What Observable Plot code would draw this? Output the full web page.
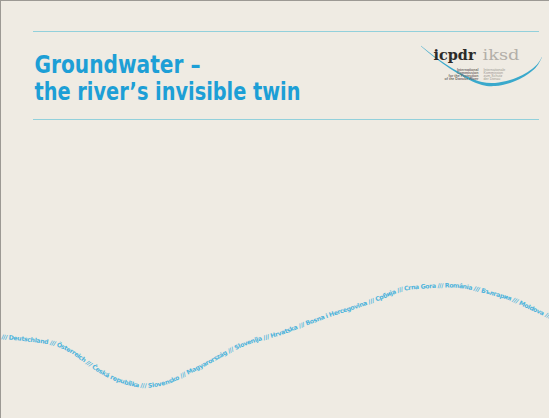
<!DOCTYPE html>
<html>
<head>
<meta charset="utf-8">
<script src="https://cdn.jsdelivr.net/npm/d3@7"></script>
<script src="https://cdn.jsdelivr.net/npm/@observablehq/plot@0.6"></script>
<style>
  html, body { margin: 0; padding: 0; background: #efebe3; }
  #chart svg { display: block; }
</style>
</head>
<body>
<div id="chart"></div>
<script>
// ---- content ----
const titleLines = ["Groundwater –", "the river’s invisible twin"];
const logoMain = "icpdr";
const logoAlt = "iksd";
const logoLeft = ["International", "Commission", "for the Protection", "of the Danube River"];
const logoRight = ["Internationale", "Kommission", "zum Schutz", "der Donau"];
const countries = ["Deutschland", "Österreich", "Česká republika", "Slovensko", "Magyarország",
  "Slovenija", "Hrvatska", "Bosna i Hercegovina", "Србија", "Crna Gora", "România",
  "България", "Moldova"];

// river wave (centre line of the lettering)
const waveX = [0, 20, 45, 60, 75, 90, 110, 130, 145, 165, 185, 205, 225, 250, 275, 300, 330, 355, 380, 400, 420, 440, 455, 470, 490, 510, 530, 552];
const waveY = [336, 338, 341, 345, 353, 364, 376, 383, 385, 382, 373, 363, 352, 341, 334, 325, 314, 306, 297, 289, 286, 285, 285, 287, 292, 298, 307, 317];

// logo swoosh (centre line + thickness)
const swooshX = [421, 432, 443, 457, 470, 482, 495, 510, 522, 532, 538, 542];
const swooshY = [46, 55, 63, 72, 79, 83.5, 84.5, 81.5, 76.5, 70, 64, 57];
const swooshW = [0.5, 1.0, 1.5, 2.0, 2.5, 2.9, 3.1, 2.9, 2.5, 2, 1.4, 0.6];

// rules
const ruleY = [31, 119];

// ---- layout ----
const W = 549, H = 418;
const titleX = 34, titleBase = 72.7, titleGap = 26.3;
const titleWidths = [166, 266];
const ruleX1 = 33, ruleX2 = 539;

const wave = waveX.map((x, i) => ({x, y: waveY[i]}));
const swoosh = swooshX.map((x, i) => ({x, y1: swooshY[i] - swooshW[i] / 2, y2: swooshY[i] + swooshW[i] / 2}));

const blue = "#1d9fd6";
const svg = Plot.plot({
  width: W, height: H,
  margin: 0,
  style: {background: "#efebe3", overflow: "hidden"},
  x: {domain: [0, W], range: [0, W], axis: null},
  y: {domain: [0, H], range: [0, H], axis: null},
  marks: [
    Plot.ruleY(ruleY, {x1: ruleX1, x2: ruleX2, stroke: "#92d0db", strokeWidth: 1}),
    Plot.text(titleLines, {
      x: titleX, y: (d, i) => titleBase + i * titleGap, text: d => d,
      textAnchor: "start", lineAnchor: "bottom", fill: blue,
      fontSize: 25.5, fontWeight: "bold",
      fontFamily: "'DejaVu Sans', Roboto, sans-serif"
    }),
    Plot.areaY(swoosh, {x: "x", y1: "y1", y2: "y2", curve: "natural", fill: "#3aa9cc"}),
    Plot.text([logoMain], {x: 433, y: 59, text: d => d, textAnchor: "start", lineAnchor: "bottom",
      fontSize: 15, fontWeight: "bold", fill: "#2b2a28", fontFamily: "'DejaVu Serif', 'Liberation Serif', serif"}),
    Plot.text([logoAlt], {x: 482, y: 59, text: d => d, textAnchor: "start", lineAnchor: "bottom",
      fontSize: 15, fill: "#b3afa9", fontFamily: "'DejaVu Serif', 'Liberation Serif', serif"}),
    Plot.text(logoLeft, {x: 478, y: (d, i) => 70 + i * 3.2, text: d => d, textAnchor: "end", lineAnchor: "bottom",
      fontSize: 3.6, fontWeight: "bold", fill: "#6f6c68", fontFamily: "'Liberation Sans', sans-serif"}),
    Plot.text(logoRight, {x: 483, y: (d, i) => 70 + i * 3.2, text: d => d, textAnchor: "start", lineAnchor: "bottom",
      fontSize: 3.6, fill: "#9b9892", fontFamily: "'Liberation Sans', sans-serif"}),
    Plot.line(wave, {x: "x", y: "y", curve: "natural", stroke: "#efebe3", strokeOpacity: 0}),
    Plot.frame({stroke: "#9c9994", strokeWidth: 1})
  ]
});
document.getElementById("chart").appendChild(svg);

// fit title lines and logo words to the reference widths (condensed face)
svg.querySelectorAll("text").forEach(t => {
  const s = t.textContent;
  const k = titleLines.indexOf(s);
  if (k >= 0) {
    t.style.fontStretch = "condensed";
    t.setAttribute("textLength", titleWidths[k]);
    t.setAttribute("lengthAdjust", "spacingAndGlyphs");
  } else if (s === logoMain) {
    t.setAttribute("textLength", 42);
    t.setAttribute("lengthAdjust", "spacingAndGlyphs");
  } else if (s === logoAlt) {
    t.setAttribute("textLength", 37);
    t.setAttribute("lengthAdjust", "spacingAndGlyphs");
  }
});

// river lettering along the wave
const riverPath = svg.querySelector('g[aria-label="line"] path');
riverPath.setAttribute("id", "riverpath");
const ns = "http://www.w3.org/2000/svg";
const riverText = "/// " + countries.join(" /// ") + " ///";
const rt = document.createElementNS(ns, "text");
rt.setAttribute("font-family", "'DejaVu Sans', sans-serif");
rt.setAttribute("font-size", "6.2");
rt.setAttribute("font-weight", "bold");
rt.setAttribute("fill", "#4db3dc");
rt.setAttribute("text-anchor", "start");
rt.setAttribute("dy", "2.2");
const tp = document.createElementNS(ns, "textPath");
tp.setAttribute("href", "#riverpath");
tp.setAttribute("startOffset", "1");
tp.textContent = riverText;
rt.appendChild(tp);
riverPath.parentNode.appendChild(rt);
// measure natural length on a straight line, then spread letters over the path length
const probe = document.createElementNS(ns, "text");
probe.setAttribute("font-family", "'DejaVu Sans', sans-serif");
probe.setAttribute("font-size", "6.2");
probe.setAttribute("font-weight", "bold");
probe.textContent = riverText;
svg.appendChild(probe);
const natural = probe.getComputedTextLength();
probe.remove();
const L = riverPath.getTotalLength();
const ls = (L - 5 - natural) / riverText.length;
rt.setAttribute("letter-spacing", ls.toFixed(3));
</script>
</body>
</html>
